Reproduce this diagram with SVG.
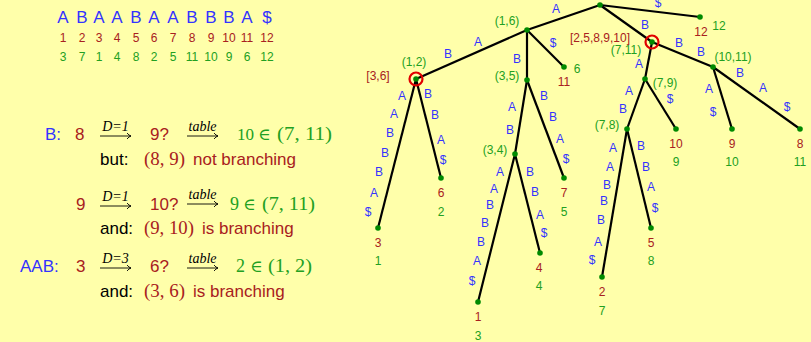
<svg xmlns="http://www.w3.org/2000/svg" width="811" height="342" viewBox="0 0 811 342">
<defs>
<style>
.bg{fill:#ffffaa}
.sans{font-family:"Liberation Sans","DejaVu Sans",sans-serif}
.serif{font-family:"Liberation Serif","DejaVu Serif",serif}
.b{fill:#3333ff}
.r{fill:#a82020}
.g{fill:#22a022}
.k{fill:#000}
.big{font-size:17px}
.sm{font-size:12px}
.mid{text-anchor:middle}
.edge{stroke:#000;stroke-width:2.2;fill:none}
.dot{fill:#008a00}
.ring{fill:none;stroke:#e00000;stroke-width:2.2}
.arr{stroke:#000;stroke-width:0.9;fill:none}
.over{font-family:"Liberation Serif","DejaVu Serif",serif;font-style:italic;font-size:14px;text-anchor:middle;fill:#000}
</style>
</defs>
<rect class="bg" x="0" y="0" width="811" height="342"/>

<!-- string and arrays -->
<g id="string" class="sans">
<g class="b big mid">
<text x="63" y="23">A</text><text x="82" y="23">B</text><text x="99" y="23">A</text><text x="117" y="23">A</text><text x="136" y="23">B</text><text x="154" y="23">A</text><text x="173" y="23">A</text><text x="192" y="23">B</text><text x="211" y="23">B</text><text x="229" y="23">B</text><text x="247" y="23">A</text><text x="267" y="23">$</text>
</g>
<g class="r sm mid">
<text x="63" y="42">1</text><text x="82" y="42">2</text><text x="99" y="42">3</text><text x="117" y="42">4</text><text x="136" y="42">5</text><text x="154" y="42">6</text><text x="173" y="42">7</text><text x="192" y="42">8</text><text x="211" y="42">9</text><text x="229" y="42">10</text><text x="247" y="42">11</text><text x="267" y="42">12</text>
</g>
<g class="g sm mid">
<text x="63" y="61">3</text><text x="82" y="61">7</text><text x="99" y="61">1</text><text x="117" y="61">4</text><text x="136" y="61">8</text><text x="154" y="61">2</text><text x="173" y="61">5</text><text x="192" y="61">11</text><text x="211" y="61">10</text><text x="229" y="61">9</text><text x="247" y="61">6</text><text x="267" y="61">12</text>
</g>
</g>

<!-- explanation -->
<g id="explanation">
<!-- line 1 -->
<text class="sans big b" x="45" y="140">B:</text>
<text class="sans big r" x="75" y="140">8</text>
<text class="over" x="115.5" y="131">D=1</text>
<path class="arr" d="M100,136 H131 M127,133 Q129,135.5 131,136 Q129,136.5 127,139"/>
<text class="sans big r" x="150" y="140">9?</text>
<text class="over" x="202.5" y="131">table</text>
<path class="arr" d="M187,136 H218 M214,133 Q216,135.5 218,136 Q216,136.5 214,139"/>
<text class="serif big g" font-size="18" x="237" y="140">10</text>
<text class="serif g" font-size="17" x="258" y="140">∈</text>
<text class="serif g" font-size="18" x="277" y="140" textLength="55" lengthAdjust="spacingAndGlyphs">(7, 11)</text>
<!-- line 2 -->
<text class="sans big k" x="100" y="165">but:</text>
<text class="serif r" font-size="18" x="144" y="165" textLength="41" lengthAdjust="spacingAndGlyphs">(8, 9)</text>
<text class="sans big r" x="193" y="165">not branching</text>
<!-- line 3 -->
<text class="sans big r" x="76" y="210">9</text>
<text class="over" x="115.5" y="201">D=1</text>
<path class="arr" d="M100,206 H131 M127,203 Q129,205.5 131,206 Q129,206.5 127,209"/>
<text class="sans big r" x="150" y="210">10?</text>
<text class="over" x="202.5" y="199">table</text>
<path class="arr" d="M187,204 H218 M214,201 Q216,203.5 218,204 Q216,204.5 214,207"/>
<text class="serif g" font-size="18" x="230" y="210">9</text>
<text class="serif g" font-size="17" x="243" y="210">∈</text>
<text class="serif g" font-size="18" x="262" y="210" textLength="53" lengthAdjust="spacingAndGlyphs">(7, 11)</text>
<!-- line 4 -->
<text class="sans big k" x="100" y="234">and:</text>
<text class="serif r" font-size="18" x="144" y="234" textLength="50" lengthAdjust="spacingAndGlyphs">(9, 10)</text>
<text class="sans big r" x="202" y="234">is branching</text>
<!-- line 5 -->
<text class="sans big b" x="20" y="272">AAB:</text>
<text class="sans big r" x="76" y="272">3</text>
<text class="over" x="115.5" y="263">D=3</text>
<path class="arr" d="M100,268 H131 M127,265 Q129,267.5 131,268 Q129,268.5 127,271"/>
<text class="sans big r" x="150" y="272">6?</text>
<text class="over" x="202.5" y="263">table</text>
<path class="arr" d="M187,268 H218 M214,265 Q216,267.5 218,268 Q216,268.5 214,271"/>
<text class="serif g" font-size="18" x="236" y="272">2</text>
<text class="serif g" font-size="17" x="250" y="272">∈</text>
<text class="serif g" font-size="18" x="268" y="272" textLength="44" lengthAdjust="spacingAndGlyphs">(1, 2)</text>
<!-- line 6 -->
<text class="sans big k" x="100" y="297">and:</text>
<text class="serif r" font-size="18" x="144" y="297" textLength="41" lengthAdjust="spacingAndGlyphs">(3, 6)</text>
<text class="sans big r" x="193" y="297">is branching</text>
</g>

<!-- connectors -->
<g id="connectors">
<line class="edge" x1="600" y1="5" x2="527" y2="30"/>
<line class="edge" x1="600" y1="5" x2="700" y2="17"/>
<line class="edge" x1="600" y1="5" x2="652" y2="42"/>
<line class="edge" x1="527" y1="30" x2="416" y2="79"/>
<line class="edge" x1="527" y1="30" x2="527" y2="80"/>
<line class="edge" x1="527" y1="30" x2="564" y2="67"/>
<line class="edge" x1="416" y1="79" x2="378" y2="228"/>
<line class="edge" x1="416" y1="79" x2="441" y2="178"/>
<line class="edge" x1="527" y1="80" x2="515" y2="154"/>
<line class="edge" x1="527" y1="80" x2="564" y2="178"/>
<line class="edge" x1="515" y1="154" x2="478" y2="302"/>
<line class="edge" x1="515" y1="154" x2="540" y2="253"/>
<line class="edge" x1="652" y1="42" x2="645" y2="79"/>
<line class="edge" x1="652" y1="42" x2="713" y2="67"/>
<line class="edge" x1="645" y1="79" x2="627" y2="129"/>
<line class="edge" x1="645" y1="79" x2="676" y2="129"/>
<line class="edge" x1="627" y1="129" x2="602" y2="277"/>
<line class="edge" x1="627" y1="129" x2="651" y2="228"/>
<line class="edge" x1="713" y1="67" x2="732" y2="129"/>
<line class="edge" x1="713" y1="67" x2="800" y2="129"/>
</g>

<g id="edge-labels" class="sans sm b mid">
<text x="556" y="13">A</text>
<text x="658" y="7">$</text>
<text x="645" y="29">B</text>
<text x="478" y="46">A</text><text x="448" y="58">B</text>
<text x="517" y="63">B</text>
<text x="553" y="47">$</text>
<text x="402" y="100">A</text><text x="394" y="118">A</text><text x="390" y="137">B</text><text x="385" y="157">B</text><text x="379" y="176">B</text><text x="374" y="197">A</text><text x="368" y="216">$</text>
<text x="428" y="98">B</text><text x="435" y="119">B</text><text x="441" y="144">A</text><text x="443" y="164">$</text>
<text x="512" y="111">A</text><text x="510" y="134">B</text>
<text x="544" y="100">B</text><text x="553" y="121">B</text><text x="560" y="143">A</text><text x="566" y="163">$</text>
<text x="500" y="176">A</text><text x="494" y="193">A</text><text x="490" y="209">B</text><text x="485" y="227">B</text><text x="481" y="246">B</text><text x="477" y="265">A</text><text x="472" y="285">$</text>
<text x="530" y="176">B</text><text x="535" y="196">B</text><text x="540" y="219">A</text><text x="544" y="237">$</text>
<text x="639" y="68">A</text>
<text x="679" y="47">B</text><text x="701" y="56">B</text>
<text x="629" y="95">A</text><text x="623" y="113">B</text>
<text x="670" y="103">$</text>
<text x="613" y="152">A</text><text x="610" y="171">A</text><text x="607" y="189">B</text><text x="604" y="205">B</text><text x="601" y="224">B</text><text x="598" y="246">A</text><text x="592" y="264">$</text>
<text x="641" y="150">B</text><text x="646" y="171">B</text><text x="651" y="191">A</text><text x="655" y="212">$</text>
<text x="709" y="93">A</text><text x="713" y="116">$</text>
<text x="740" y="77">B</text><text x="763" y="92">A</text><text x="787" y="111">$</text>
</g>

<!-- nodes -->
<g class="sans sm mid">
<g id="root"><circle class="dot" cx="600" cy="5" r="2.8"/></g>
<g id="n16"><circle class="dot" cx="527" cy="30" r="2.8"/><text class="g" x="507" y="25">(1,6)</text></g>
<g id="n12"><circle class="dot" cx="416" cy="79" r="2.8"/><circle class="ring" cx="416" cy="79" r="6.5"/><text class="g" x="414" y="66">(1,2)</text><text class="r" x="378" y="80">[3,6]</text></g>
<g id="n35"><circle class="dot" cx="527" cy="80" r="2.8"/><text class="g" x="507" y="80">(3,5)</text></g>
<g id="n34"><circle class="dot" cx="515" cy="154" r="2.8"/><text class="g" x="495" y="154">(3,4)</text></g>
<g id="n711"><circle class="dot" cx="652" cy="42" r="2.8"/><circle class="ring" cx="652" cy="42" r="6.5"/><text class="g" x="626" y="54">(7,11)</text><text class="r" x="600" y="42">[2,5,8,9,10]</text></g>
<g id="n79"><circle class="dot" cx="645" cy="79" r="2.8"/><text class="g" x="665" y="87">(7,9)</text></g>
<g id="n78"><circle class="dot" cx="627" cy="129" r="2.8"/><text class="g" x="607" y="129">(7,8)</text></g>
<g id="n1011"><circle class="dot" cx="713" cy="67" r="2.8"/><text class="g" x="733" y="61">(10,11)</text></g>

<g id="leaf12"><circle class="dot" cx="700" cy="17" r="2.8"/><text class="r" x="701" y="36">12</text><text class="g" x="719" y="30">12</text></g>
<g id="leaf11"><circle class="dot" cx="564" cy="67" r="2.8"/><text class="r" x="564" y="86">11</text><text class="g" x="577" y="73">6</text></g>
<g id="leaf3"><circle class="dot" cx="378" cy="228" r="2.8"/><text class="r" x="378" y="247">3</text><text class="g" x="378" y="265">1</text></g>
<g id="leaf6"><circle class="dot" cx="441" cy="178" r="2.8"/><text class="r" x="441" y="197">6</text><text class="g" x="441" y="216">2</text></g>
<g id="leaf7"><circle class="dot" cx="564" cy="178" r="2.8"/><text class="r" x="564" y="197">7</text><text class="g" x="564" y="216">5</text></g>
<g id="leaf1"><circle class="dot" cx="478" cy="302" r="2.8"/><text class="r" x="478" y="321">1</text><text class="g" x="478" y="340">3</text></g>
<g id="leaf4"><circle class="dot" cx="540" cy="253" r="2.8"/><text class="r" x="539" y="272">4</text><text class="g" x="539" y="290">4</text></g>
<g id="leaf10"><circle class="dot" cx="676" cy="129" r="2.8"/><text class="r" x="676" y="148">10</text><text class="g" x="676" y="166">9</text></g>
<g id="leaf2"><circle class="dot" cx="602" cy="277" r="2.8"/><text class="r" x="602" y="296">2</text><text class="g" x="602" y="315">7</text></g>
<g id="leaf5"><circle class="dot" cx="651" cy="228" r="2.8"/><text class="r" x="651" y="247">5</text><text class="g" x="651" y="265">8</text></g>
<g id="leaf9"><circle class="dot" cx="732" cy="129" r="2.8"/><text class="r" x="732" y="148">9</text><text class="g" x="732" y="166">10</text></g>
<g id="leaf8"><circle class="dot" cx="800" cy="129" r="2.8"/><text class="r" x="800" y="148">8</text><text class="g" x="800" y="166">11</text></g>
</g>
</svg>
